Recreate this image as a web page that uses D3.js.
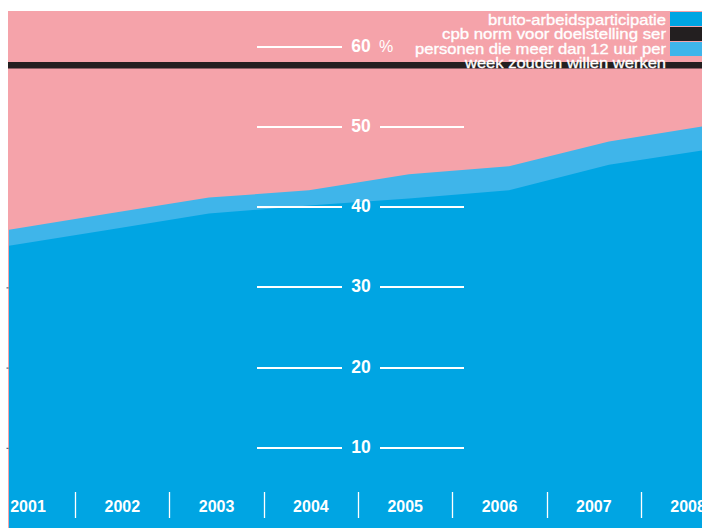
<!DOCTYPE html>
<html>
<head>
<meta charset="utf-8">
<script src="https://cdn.jsdelivr.net/npm/d3@7/dist/d3.min.js"></script>
<style>
  html, body { margin: 0; padding: 0; background: #ffffff; }
  svg { display: block; }
  text { font-family: "Liberation Sans", Arial, Helvetica, sans-serif; }
</style>
</head>
<body>
<svg id="chart" width="702" height="528"></svg>
<script>
// ---- data ----
const years = [2001, 2002, 2003, 2004, 2005, 2006, 2007, 2008];
const bruto = [35.2, 37.2, 39.2, 40.2, 41.1, 42.1, 45.3, 47.2];        // bruto-arbeidsparticipatie
const personenExtra = [2.0, 2.0, 2.0, 1.9, 3.0, 3.0, 2.9, 3.0];       // extra: personen die meer dan 12 uur per week zouden willen werken
const cpbNorm = 57.7;                                                  // cpb norm voor doelstelling
const gridTicks = [10, 20, 30, 40, 50, 60];
const yearLabels = ["2001", "2002", "2003", "2004", "2005", "2006", "2007", "2008"];
const legendLabels = ["bruto-arbeidsparticipatie", "cpb norm voor doelstelling ser", "personen die meer dan 12 uur per", "week zouden willen werken"];

// ---- colours ----
const PINK = "#F5A3AA", DARK = "#00A5E3", LIGHT = "#3FB5EA", BLACK = "#231F20";

const svg = d3.select("#chart");
const W = 702, H = 528;

const x = d3.scaleLinear().domain([2001, 2008]).range([9, 709]);
const y = d3.scaleLinear().domain([0, 60]).range([528, 46.8]);
const xBand = d3.scaleBand().domain(yearLabels).range([-19.15, -19.15 + 8 * 94.3]).padding(0);

svg.append("defs").append("clipPath").attr("id", "plotclip")
  .append("rect").attr("x", 8).attr("y", 11).attr("width", W - 8).attr("height", H - 11);

// background
svg.append("rect").attr("x", 8).attr("y", 11).attr("width", W - 8).attr("height", H - 11).attr("fill", PINK);

const rows = years.map((yr, i) => ({ yr, b: bruto[i], t: bruto[i] + personenExtra[i] }));
const plot = svg.append("g").attr("clip-path", "url(#plotclip)");

plot.append("path").datum(rows)
  .attr("fill", LIGHT)
  .attr("d", d3.area().x(d => x(d.yr)).y0(y(0) + 5).y1(d => y(d.t)));
plot.append("path").datum(rows)
  .attr("fill", DARK)
  .attr("d", d3.area().x(d => x(d.yr)).y0(y(0) + 5).y1(d => y(d.b)));

// cpb norm line
plot.append("line")
  .attr("x1", 8).attr("x2", W)
  .attr("y1", y(cpbNorm)).attr("y2", y(cpbNorm))
  .attr("stroke", BLACK).attr("stroke-width", 6.6);

// small left ticks
const axL = svg.append("g").attr("transform", "translate(8.5,0)")
  .call(d3.axisLeft(y).tickValues([10, 20, 30]).tickSize(2).tickFormat(""));
axL.select(".domain").remove();
axL.selectAll("line").attr("stroke", "#444").attr("stroke-width", 1);

// gridlines with centered labels
const cx = 361;
const g = svg.append("g");
gridTicks.forEach(v => {
  const yy = Math.round(y(v));
  g.append("line").attr("x1", 257).attr("x2", 342).attr("y1", yy).attr("y2", yy)
    .attr("stroke", "#fff").attr("stroke-width", 2);
  if (v !== 60) {
    g.append("line").attr("x1", 380).attr("x2", 464).attr("y1", yy).attr("y2", yy)
      .attr("stroke", "#fff").attr("stroke-width", 2);
  }
  g.append("text").attr("x", cx).attr("y", yy + 5)
    .attr("text-anchor", "middle").attr("fill", "#fff")
    .attr("font-size", 17.5).attr("font-weight", "bold").text(v);
  if (v === 60) {
    g.append("text").attr("x", 379).attr("y", yy + 5)
      .attr("fill", "#fff").attr("font-size", 16).text("%");
  }
});

// legend
const legendWidths = [178, 224, 251, 201];
const legendBase = [25, 39.3, 53.6, 68];
legendLabels.forEach((t, i) => {
  svg.append("text").attr("x", 666).attr("y", legendBase[i])
    .attr("text-anchor", "end").attr("fill", "#fff")
    .attr("stroke", "#fff").attr("stroke-width", 0.35)
    .attr("font-size", 15.5)
    .attr("textLength", legendWidths[i]).attr("lengthAdjust", "spacingAndGlyphs")
    .text(t);
});
const swatches = [DARK, BLACK, LIGHT];
swatches.forEach((c, i) => {
  svg.append("rect").attr("x", 670).attr("y", 12 + i * 15).attr("width", 32).attr("height", 14).attr("fill", c);
});

// x axis labels
const xa = svg.append("g");
yearLabels.forEach((lab, i) => {
  xa.append("text").attr("x", xBand(lab) + xBand.bandwidth() / 2).attr("y", 512.3)
    .attr("text-anchor", "middle").attr("fill", "#fff")
    .attr("font-size", 16).attr("font-weight", "bold").text(lab);
  if (i > 0) {
    const sx = Math.round(xBand(lab)) + 0.5;
    xa.append("line").attr("x1", sx).attr("x2", sx).attr("y1", 492).attr("y2", 518)
      .attr("stroke", "#fff").attr("stroke-width", 1.3);
  }
});
</script>
</body>
</html>
